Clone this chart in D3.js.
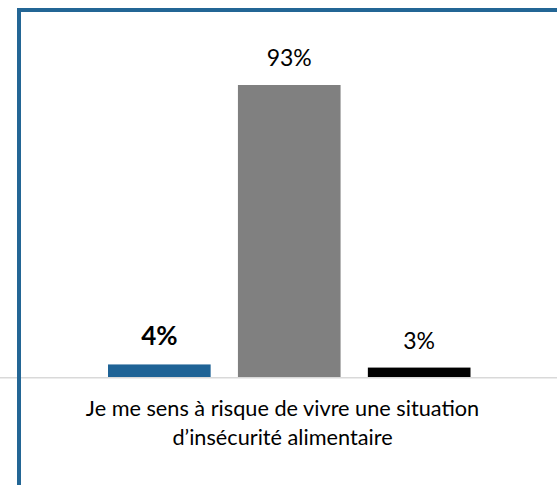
<!DOCTYPE html>
<html>
<head>
<meta charset="utf-8">
<script src="https://cdn.jsdelivr.net/npm/d3@7"></script>
<style>
  html, body { margin: 0; padding: 0; background: #fff; }
  svg { display: block; }
</style>
</head>
<body>
<svg id="chart" width="557" height="485"></svg>
<script>
const categoryLines = ["Je me sens à risque de vivre une situation", "d\u2019insécurité alimentaire"];
const seriesNames = ["Oui", "Non", "Ne sait pas"];
const seriesValues = [4, 93, 3];
const valueLabels = ["4%", "93%", "3%"];
const seriesColors = ["#1f6396", "#808080", "#000000"];

const svg = d3.select("#chart");
const W = 557, H = 485;
const font = "Lato, 'Open Sans', sans-serif";

const x = d3.scaleBand().domain(seriesNames).range([108, 470.5]).paddingInner(0.21).paddingOuter(0);
const y = d3.scaleLinear().domain([0, 93]).range([377, 85]);

// baseline (category axis)
svg.append("line")
  .attr("x1", 0).attr("x2", W)
  .attr("y1", 377.75).attr("y2", 377.75)
  .attr("stroke", "#d9d9d9").attr("stroke-width", 1.5);

// bars
svg.selectAll("rect.bar").data(seriesNames).enter().append("rect")
  .attr("class", "bar")
  .attr("x", d => x(d))
  .attr("width", x.bandwidth())
  .attr("y", (d, i) => y(seriesValues[i]))
  .attr("height", (d, i) => y(0) - y(seriesValues[i]))
  .attr("fill", (d, i) => seriesColors[i]);

// value labels
svg.selectAll("text.val").data(seriesNames).enter().append("text")
  .attr("class", "val")
  .attr("x", d => x(d) + x.bandwidth() / 2)
  .attr("y", (d, i) => y(seriesValues[i]) - 19)
  .attr("text-anchor", "middle")
  .attr("font-family", font)
  .attr("font-size", (d, i) => i === 0 ? 26 : 23)
  .attr("font-weight", (d, i) => i === 0 ? "bold" : "normal")
  .attr("fill", "#000")
  .text((d, i) => valueLabels[i]);

// category label
const cat = svg.append("text")
  .attr("text-anchor", "middle")
  .attr("font-family", font)
  .attr("font-size", 21.7)
  .attr("fill", "#000");
categoryLines.forEach((t, i) => {
  cat.append("tspan").attr("x", 282.5).attr("y", 416 + i * 29).text(t);
});

// outer border
svg.append("rect")
  .attr("x", 19).attr("y", 10)
  .attr("width", 700).attr("height", 700)
  .attr("fill", "none")
  .attr("stroke", "#236695").attr("stroke-width", 4);
</script>
</body>
</html>
